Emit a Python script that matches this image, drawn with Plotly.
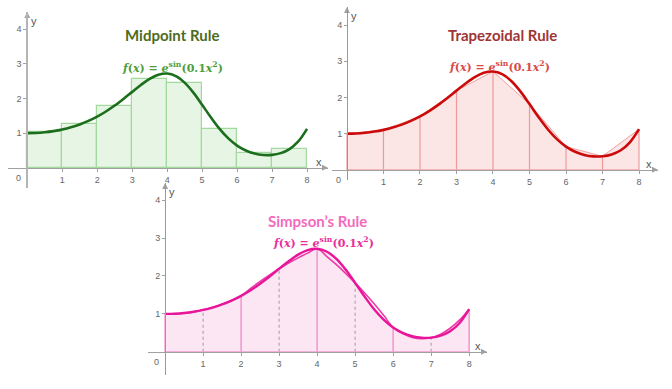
import plotly.graph_objects as go

# ---------------- data ----------------
x_curve = [0, 0.25, 0.5, 0.75, 1, 1.25, 1.5, 1.75, 2, 2.25, 2.5, 2.75, 3, 3.25, 3.5, 3.75,
           4, 4.25, 4.5, 4.75, 5, 5.25, 5.5, 5.75, 6, 6.25, 6.5, 6.75, 7, 7.25, 7.5, 7.75, 8]
curve_values = [1.0, 1.006, 1.025, 1.058, 1.105, 1.168, 1.250, 1.352, 1.476, 1.624, 1.795,
                1.986, 2.189, 2.388, 2.562, 2.682, 2.717, 2.644, 2.456, 2.169, 1.819, 1.456,
                1.123, 0.849, 0.642, 0.500, 0.413, 0.372, 0.374, 0.425, 0.542, 0.761, 1.124]
simpson_values = [1.0, 1.001, 1.019, 1.054, 1.105, 1.173, 1.257, 1.358, 1.476, 1.672, 1.856,
                  2.028, 2.189, 2.338, 2.476, 2.602, 2.717, 2.519, 2.303, 2.070, 1.819, 1.551,
                  1.265, 0.962, 0.642, 0.480, 0.381, 0.346, 0.374, 0.466, 0.622, 0.841, 1.124]
nodes = [0, 1, 2, 3, 4, 5, 6, 7, 8]
node_values = [1.0, 1.105, 1.476, 2.189, 2.717, 1.819, 0.642, 0.374, 1.124]
midpoints = [0.5, 1.5, 2.5, 3.5, 4.5, 5.5, 6.5, 7.5]
midpoint_values = [1.025, 1.250, 1.795, 2.562, 2.456, 1.123, 0.414, 0.542]
x_ticks = [1, 2, 3, 4, 5, 6, 7, 8]
y_ticks = [1, 2, 3, 4]
titles = ["Midpoint Rule", "Trapezoidal Rule", "Simpson’s Rule"]
formula = "<b><i>f</i>(<i>x</i>) = <i>e</i><sup>sin</sup>(0.1<i>x</i><sup>2</sup>)</b>"

W, H = 672, 389

panels = [
    dict(sfx="", px=(8, 328), py=(12, 188), xr=(-0.55, 8.6), yr=(-0.58, 4.49),
         title_xy=(172, 35), form_xy=(173, 68), title_col="#4e6b22", form_col="#4f9e38",
         ylw=2, ycol="#b4b4b4"),
    dict(sfx="2", px=(332, 658), py=(7, 180), xr=(-0.41, 8.52), yr=(-0.28, 4.5),
         title_xy=(502, 35), form_xy=(499, 66), title_col="#9e3535", form_col="#d94848",
         ylw=1, ycol="#999999"),
    dict(sfx="3", px=(148, 487), py=(183, 375), xr=(-0.45, 8.47), yr=(-0.61, 4.45),
         title_xy=(317, 221), form_xy=(323, 242), title_col="#f26bbd", form_col="#ea2c9c",
         ylw=1, ycol="#999999"),
]

fig = go.Figure()

# ---------- Midpoint ----------
fig.add_trace(go.Bar(x=midpoints, y=midpoint_values, width=1, xaxis="x", yaxis="y",
                     marker=dict(color="#e6f5e4", line=dict(color="#a3d89e", width=1.2))))
fig.add_trace(go.Scatter(x=x_curve, y=curve_values, mode="lines", xaxis="x", yaxis="y",
                         line=dict(color="#1b6e1b", width=2.6, shape="spline")))

# ---------- Trapezoidal ----------
fig.add_trace(go.Scatter(x=nodes, y=node_values, mode="lines", fill="tozeroy",
                         fillcolor="#fbe5e5", xaxis="x2", yaxis="y2",
                         line=dict(color="#ef9f9f", width=1)))
vx, vy = [], []
for n, v in zip(nodes, node_values):
    vx += [n, n, None]
    vy += [0, v, None]
fig.add_trace(go.Scatter(x=vx, y=vy, mode="lines", xaxis="x2", yaxis="y2",
                         line=dict(color="#ef9a9a", width=1.2)))
fig.add_trace(go.Scatter(x=[nodes[0], nodes[-1]], y=[0, 0], mode="lines", xaxis="x2", yaxis="y2",
                         line=dict(color="#ef9a9a", width=1)))
fig.add_trace(go.Scatter(x=x_curve, y=curve_values, mode="lines", xaxis="x2", yaxis="y2",
                         line=dict(color="#cc0a0a", width=2.6, shape="spline")))

# ---------- Simpson ----------
fig.add_trace(go.Scatter(x=x_curve, y=curve_values, mode="lines", fill="tozeroy",
                         fillcolor="#fde6f4", xaxis="x3", yaxis="y3",
                         line=dict(color="rgba(0,0,0,0)", width=0, shape="spline")))
ex, ey, ox, oy = [], [], [], []
for n, v in zip(nodes, node_values):
    if n % 2 == 0:
        ex += [n, n, None]; ey += [0, v, None]
    else:
        ox += [n, n, None]; oy += [0, v, None]
fig.add_trace(go.Scatter(x=ox, y=oy, mode="lines", xaxis="x3", yaxis="y3",
                         line=dict(color="#a8a8a8", width=1.2, dash="dot")))
fig.add_trace(go.Scatter(x=ex, y=ey, mode="lines", xaxis="x3", yaxis="y3",
                         line=dict(color="#f29ad0", width=1.6)))
fig.add_trace(go.Scatter(x=[nodes[0], nodes[-1]], y=[0, 0], mode="lines", xaxis="x3", yaxis="y3",
                         line=dict(color="#f29ad0", width=1.2)))
fig.add_trace(go.Scatter(x=x_curve, y=simpson_values, mode="lines", xaxis="x3", yaxis="y3",
                         line=dict(color="#ec3aa6", width=1.6, shape="spline")))
fig.add_trace(go.Scatter(x=x_curve, y=curve_values, mode="lines", xaxis="x3", yaxis="y3",
                         line=dict(color="#e8149a", width=2.4, shape="spline")))

# ---------- axes & annotations ----------
annotations = []
layout = dict(width=W, height=H, margin=dict(l=0, r=0, t=0, b=0, autoexpand=False),
              showlegend=False, paper_bgcolor="white", plot_bgcolor="rgba(0,0,0,0)",
              font=dict(family="Liberation Sans, Arial, sans-serif", color="#666666", size=9))

for p, title in zip(panels, titles):
    dx = (p["px"][0] / W, p["px"][1] / W)
    dy = (1 - p["py"][1] / H, 1 - p["py"][0] / H)
    xr, yr = p["xr"], p["yr"]
    xpos = dx[0] + (0 - xr[0]) / (xr[1] - xr[0]) * (dx[1] - dx[0])
    ypos = dy[0] + (0 - yr[0]) / (yr[1] - yr[0]) * (dy[1] - dy[0])
    xa, ya = "x" + p["sfx"], "y" + p["sfx"]
    layout["xaxis" + p["sfx"]] = dict(
        domain=list(dx), range=list(xr), anchor="free", position=ypos, automargin=False,
        showline=True, linecolor="#a0a0a0", linewidth=1, ticks="outside", ticklen=3,
        tickcolor="#a0a0a0", tickvals=x_ticks, showgrid=False, zeroline=False,
        tickfont=dict(size=9, color="#666666"), fixedrange=True)
    layout["yaxis" + p["sfx"]] = dict(
        domain=list(dy), range=list(yr), anchor="free", position=xpos, automargin=False,
        showline=True, linecolor=p["ycol"], linewidth=p["ylw"], ticks="outside", ticklen=3,
        tickcolor="#a0a0a0", tickvals=y_ticks, showgrid=False, zeroline=False,
        tickfont=dict(size=9, color="#666666"), fixedrange=True)
    # arrowheads at axis ends
    fig.add_trace(go.Scatter(x=[xr[1]], y=[0], mode="markers", xaxis=xa, yaxis=ya,
                             cliponaxis=False, hoverinfo="skip",
                             marker=dict(symbol="arrow-right", size=6, color="#a0a0a0")))
    fig.add_trace(go.Scatter(x=[0], y=[yr[1]], mode="markers", xaxis=xa, yaxis=ya,
                             cliponaxis=False, hoverinfo="skip",
                             marker=dict(symbol="arrow-up", size=6, color="#a0a0a0")))
    # axis letters and origin label
    annotations.append(dict(x=xr[1], y=0, xref=xa, yref=ya, text="x", showarrow=False,
                            xanchor="right", yanchor="bottom", xshift=-4, yshift=-2,
                            font=dict(size=11, color="#555555")))
    annotations.append(dict(x=0, y=yr[1], xref=xa, yref=ya, text="y", showarrow=False,
                            xanchor="left", yanchor="top", xshift=2, yshift=-1,
                            font=dict(size=11, color="#555555")))
    annotations.append(dict(x=0, y=0, xref=xa, yref=ya, text="0", showarrow=False,
                            xanchor="right", yanchor="top", xshift=-4, yshift=-3,
                            font=dict(size=9, color="#666666")))
    # title and formula
    annotations.append(dict(x=p["title_xy"][0] / W, y=1 - p["title_xy"][1] / H,
                            xref="paper", yref="paper", text="<b>" + title + "</b>",
                            showarrow=False, xanchor="center", yanchor="middle",
                            font=dict(family="Lato, Open Sans, sans-serif", size=15,
                                      color=p["title_col"])))
    annotations.append(dict(x=p["form_xy"][0] / W, y=1 - p["form_xy"][1] / H,
                            xref="paper", yref="paper", text=formula,
                            showarrow=False, xanchor="center", yanchor="middle",
                            font=dict(family="DejaVu Serif, Liberation Serif, serif", size=11,
                                      color=p["form_col"])))

layout["annotations"] = annotations
layout["bargap"] = 0
fig.update_layout(**layout)
fig.write_html("out.html", config={"displayModeBar": False},
               post_script="document.body.style.margin='0';")
